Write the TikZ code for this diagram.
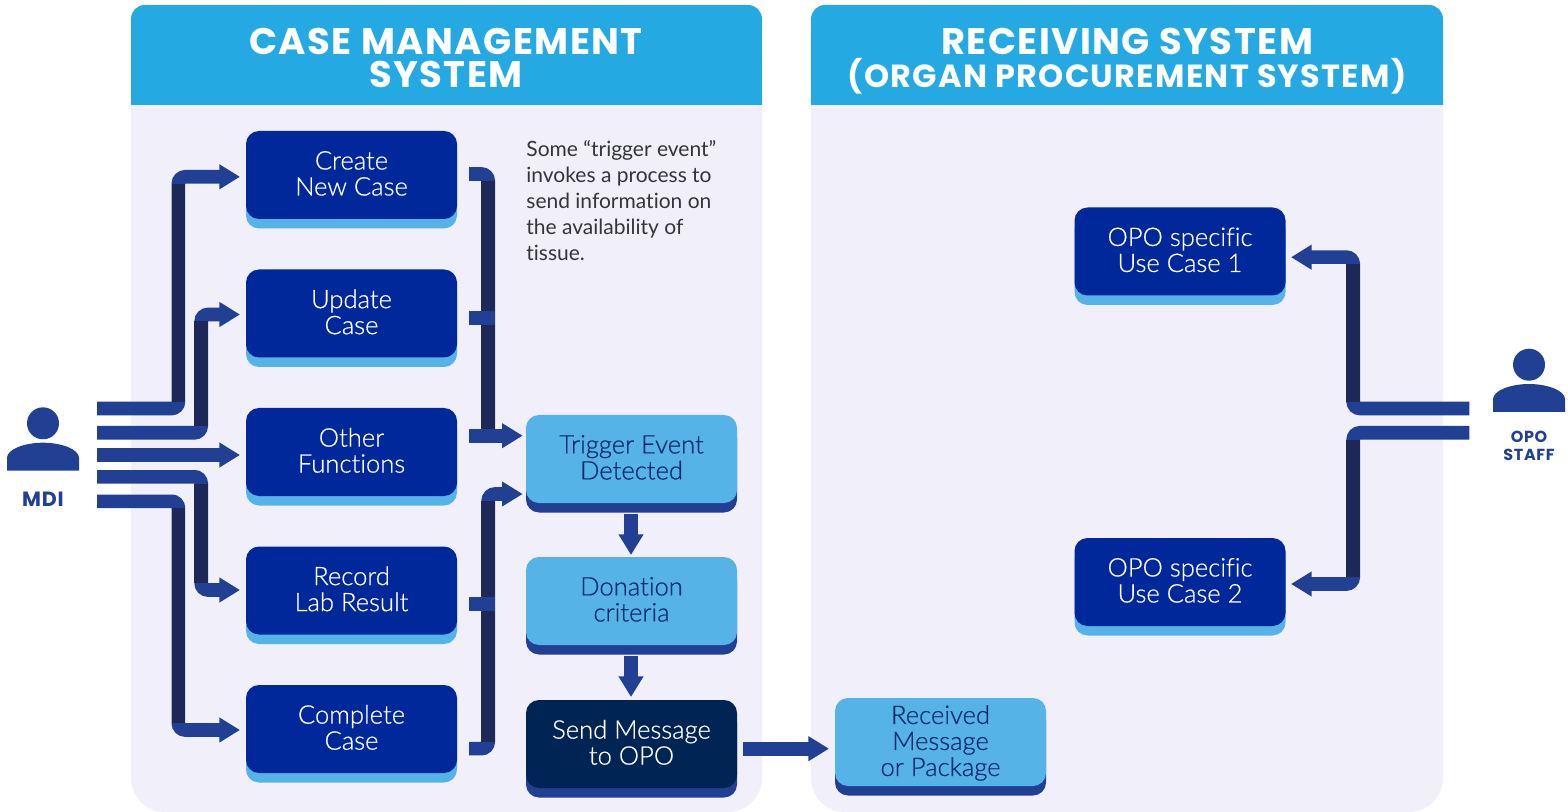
\documentclass[tikz,border=0pt]{standalone}
\usepackage{fontspec}
\setmainfont{Lato}[UprightFont=* Light,UprightFeatures={FakeBold=0.5},Ligatures=NoCommon]
\newfontfamily\notefont{Lato}[Ligatures=NoCommon]
\newfontfamily\wideheadfont{Poppins}[LetterSpace=4]
\usetikzlibrary{arrows.meta}
\definecolor{panelbg}{HTML}{F0EFFA}
\definecolor{headbg}{HTML}{25A9E2}
\definecolor{royal}{HTML}{00289A}
\definecolor{sky}{HTML}{55B3E8}
\definecolor{medblue}{HTML}{213F93}
\definecolor{darkspine}{HTML}{1B2858}
\definecolor{navy}{HTML}{002454}
\definecolor{skytext}{HTML}{0B2A6B}
\definecolor{notegray}{HTML}{33343C}
\tikzset{
  x=0.5pt,y=-0.5pt,
  panel/.style={fill=panelbg,draw=none},
  header/.style={fill=headbg,draw=none},
  headtext/.style={text=white,align=center},
  boxbase/.style={minimum width=105.5pt,minimum height=44pt,inner sep=0pt,rounded corners=6.5pt,align=center,
     font=\fontsize{12.8}{13}\selectfont},
  mainbox/.style={boxbase,fill=royal,text=white},
  mainunder/.style={boxbase,fill=sky},
  skybox/.style={boxbase,fill=sky,text=skytext},
  skyunder/.style={boxbase,fill=medblue},
  sendbox/.style={boxbase,fill=navy,text=white},
  textlift/.style={yshift=0.8pt},
  flow/.style={draw=medblue,line width=6.8pt},
  flowhead/.style={flow,-{Triangle[length=10.3pt,width=11.8pt,fill=medblue]}},
  turn/.style={rounded corners=3.4pt},
  spine/.style={draw=darkspine,line width=6.8pt,shorten <=3.4pt,shorten >=3.4pt},
  person/.style={fill=medblue,draw=none},
  actor/.style={text=medblue,align=center},
  note/.style={align=left,anchor=north west,inner sep=0pt,text=notegray,font=\notefont\fontsize{10.5}{13}\selectfont},
}
\newcommand{\duobox}[6]{% name, style, under style, cx, top, text
  \node[#3] at (#4,#5+53.5) {};
  \node[#2] (#1) at (#4,#5+44) {};
  \node[#2,fill=none,textlift] at (#1) {#6};
}
\begin{document}
\begin{tikzpicture}
\useasboundingbox (0,0) rectangle (1568,812);
% panels
\fill[panel] (131,60) [rounded corners=17pt] -- (131,812) -- (762,812) [sharp corners] -- (762,60) -- cycle;
\fill[panel] (811,60) [rounded corners=17pt] -- (811,812) -- (1443,812) [sharp corners] -- (1443,60) -- cycle;
\fill[header] (131,105) [rounded corners=7pt] -- (131,5) -- (762,5) [sharp corners] -- (762,105) -- cycle;
\fill[header] (811,105) [rounded corners=7pt] -- (811,5) -- (1443,5) [sharp corners] -- (1443,105) -- cycle;
\node[headtext,font=\wideheadfont\bfseries\fontsize{18.5}{16.5}\selectfont] (casehead) at (446,58) {CASE MANAGEMENT\\SYSTEM};
\node[headtext,font=\wideheadfont\bfseries\fontsize{18.5}{17.5}\selectfont] (rechead) at (1127,41) {RECEIVING SYSTEM};
\node[headtext,font=\wideheadfont\bfseries\fontsize{16}{17.5}\selectfont] (recsub) at (1127,76) {(ORGAN PROCUREMENT SYSTEM)};
% boxes
\duobox{create}{mainbox}{mainunder}{351.5}{131}{Create\\New Case}
\duobox{update}{mainbox}{mainunder}{351.5}{269.5}{Update\\Case}
\duobox{other}{mainbox}{mainunder}{351.5}{408}{Other\\Functions}
\duobox{record}{mainbox}{mainunder}{351.5}{546.5}{Record\\Lab Result}
\duobox{complete}{mainbox}{mainunder}{351.5}{685}{Complete\\Case}
\duobox{trigger}{skybox}{skyunder}{631.5}{415}{Trigger Event\\Detected}
\duobox{donation}{skybox}{skyunder}{631.5}{557}{Donation\\criteria}
\duobox{send}{sendbox}{skyunder}{631.5}{700}{Send Message\\to OPO}
{\tikzset{textlift/.style={yshift=-0.5pt}}
\duobox{received}{skybox}{skyunder}{940.5}{698}{Received\\Message\\or Package}}
\duobox{use1}{mainbox}{mainunder}{1180}{207.5}{OPO specific\\Use Case 1}
\duobox{use2}{mainbox}{mainunder}{1180}{538}{OPO specific\\Use Case 2}
\node[note] (notetext) at (526,140.5) {Some “trigger event”\\invokes a process to\\send information on\\the availability of\\tissue.};
% people
\fill[person] (43,423.3) circle (8pt);
\fill[person] (7,470.7) -- (7,458) .. controls (7,449) and (25,442.7) .. (43,442.7) .. controls (61,442.7) and (79,449) .. (79,458) -- (79,470.7) -- cycle;
\node[actor,font=\wideheadfont\bfseries\fontsize{10.3}{10}\selectfont] (mdi) at (43,499) {MDI};
\fill[person] (1529,364.7) circle (8pt);
\fill[person] (1493,412) -- (1493,399.3) .. controls (1493,390.3) and (1511,384) .. (1529,384) .. controls (1547,384) and (1565,390.3) .. (1565,399.3) -- (1565,412) -- cycle;
\node[actor,font=\wideheadfont\bfseries\fontsize{8}{9.2}\selectfont] (opo) at (1529,446) {OPO\\STAFF};
% free ends
\coordinate (m1) at (97,408.5);
\coordinate (m2) at (97,432.8);
\coordinate (m3) at (97,455);
\coordinate (m4) at (97,476.8);
\coordinate (m5) at (97,501.3);
\coordinate (tA) at (178.4,0);
\coordinate (tB) at (201.2,0);
\coordinate (i1) at (240,176.8);
\coordinate (i2) at (240,314.5);
\coordinate (i3) at (240,455);
\coordinate (i4) at (240,590);
\coordinate (i5) at (240,730);
\draw[flowhead] (m1) [turn] -- (m1 -| tA) -- (tA |- i1) [sharp corners] -- (i1);
\draw[spine] (tA |- m1) -- (tA |- i1);
\draw[flowhead] (m2) [turn] -- (m2 -| tB) -- (tB |- i2) [sharp corners] -- (i2);
\draw[spine] (tB |- m2) -- (tB |- i2);
\draw[flowhead] (m3) -- (i3);
\draw[flowhead] (m4) [turn] -- (m4 -| tB) -- (tB |- i4) [sharp corners] -- (i4);
\draw[spine] (tB |- m4) -- (tB |- i4);
\draw[flowhead] (m5) [turn] -- (m5 -| tA) -- (tA |- i5) [sharp corners] -- (i5);
\draw[spine] (tA |- m5) -- (tA |- i5);
% collectors
\coordinate (tC) at (488.2,0);
\coordinate (tCe) at (495,0);
\coordinate (s1) at (469,174);
\coordinate (s2) at (469,318);
\coordinate (s3) at (469,435.7);
\coordinate (s4) at (469,604);
\coordinate (s5) at (469,748.6);
\coordinate (j1) at (522.7,435.7);
\coordinate (j2) at (522.7,494);
\draw[flow] (s1) [turn] -- (s1 -| tC) -- (tC |- j1);
\draw[spine,shorten >=0pt] (tC |- s1) -- (tC |- j1);
\draw[flow] (s2) -- (s2 -| tCe);
\draw[flowhead] (s3) -- (j1);
\draw[flowhead] (s5) [turn] -- (s5 -| tC) -- (tC |- j2) [sharp corners] -- (j2);
\draw[spine] (tC |- s5) -- (tC |- j2);
\draw[flow] (s4) -- (s4 -| tCe);
% vertical arrows
\coordinate (d1) at (631,514);
\coordinate (d2) at (631,555);
\coordinate (d3) at (631,656);
\coordinate (d4) at (631,697);
\draw[flowhead] (d1) -- (d2);
\draw[flowhead] (d3) -- (d4);
\coordinate (e1) at (743,748.7);
\coordinate (e2) at (829,748.7);
\draw[flowhead] (e1) -- (e2);
% right side
\coordinate (r1) at (1469.3,408.5);
\coordinate (r2) at (1469.3,432.8);
\coordinate (tR) at (1353.2,0);
\coordinate (o1) at (1291,257.2);
\coordinate (o2) at (1291,584);
\draw[flowhead] (r1) [turn] -- (r1 -| tR) -- (tR |- o1) [sharp corners] -- (o1);
\draw[spine] (tR |- r1) -- (tR |- o1);
\draw[flowhead] (r2) [turn] -- (r2 -| tR) -- (tR |- o2) [sharp corners] -- (o2);
\draw[spine] (tR |- r2) -- (tR |- o2);
\end{tikzpicture}
\end{document}
